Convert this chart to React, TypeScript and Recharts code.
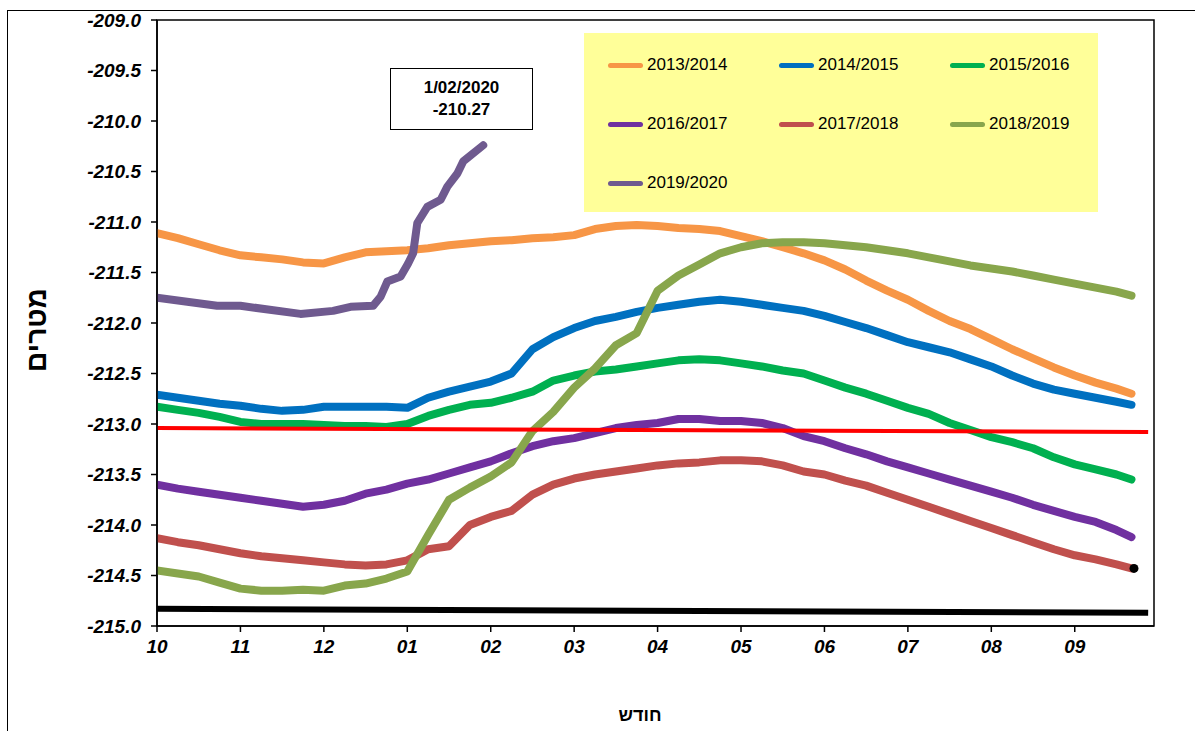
import {
  LineChart,
  Line,
  XAxis,
  YAxis,
  ReferenceLine,
  ReferenceArea,
  ReferenceDot,
} from "recharts";

// month ticks (Oct .. Sep)
const MONTH_LABELS = ["10", "11", "12", "01", "02", "03", "04", "05", "06", "07", "08", "09"];
const MONTH_TICKS = [0, 1, 2, 3, 4, 5, 6, 7, 8, 9, 10, 11];
const Y_TICKS = [-215, -214.5, -214, -213.5, -213, -212.5, -212, -211.5, -211, -210.5, -210, -209.5, -209];

// sample positions in months since 1 Oct
const X_POS = [
  0, 0.25, 0.5, 0.75, 1, 1.25, 1.5, 1.75, 2, 2.25, 2.5, 2.75, 3, 3.25, 3.5, 3.75,
  4, 4.25, 4.5, 4.75, 5, 5.25, 5.5, 5.75, 6, 6.25, 6.5, 6.75, 7, 7.25, 7.5, 7.75,
  8, 8.25, 8.5, 8.75, 9, 9.25, 9.5, 9.75, 10, 10.25, 10.5, 10.75, 11, 11.25, 11.5, 11.68,
];

const S1314 = [
  -211.11, -211.16, -211.22, -211.28, -211.33, -211.35, -211.37, -211.4, -211.41, -211.35, -211.3, -211.29,
  -211.28, -211.26, -211.23, -211.21, -211.19, -211.18, -211.16, -211.15, -211.13, -211.07, -211.04, -211.03,
  -211.04, -211.06, -211.07, -211.09, -211.14, -211.19, -211.25, -211.31, -211.38, -211.47, -211.58, -211.68,
  -211.77, -211.88, -211.98, -212.06, -212.16, -212.26, -212.35, -212.44, -212.52, -212.59, -212.65, -212.7,
];
const S1415 = [
  -212.71, -212.74, -212.77, -212.8, -212.82, -212.85, -212.87, -212.86, -212.83, -212.83, -212.83, -212.83,
  -212.84, -212.74, -212.68, -212.63, -212.58, -212.5, -212.26, -212.14, -212.05, -211.98, -211.94, -211.89,
  -211.85, -211.82, -211.79, -211.77, -211.79, -211.82, -211.85, -211.88, -211.93, -211.99, -212.05, -212.12,
  -212.19, -212.24, -212.29, -212.36, -212.43, -212.52, -212.6, -212.66, -212.7, -212.74, -212.78, -212.81,
];
const S1516 = [
  -212.83, -212.86, -212.89, -212.93, -212.98, -213.0, -213.0, -213.0, -213.01, -213.02, -213.02, -213.03,
  -213.0, -212.92, -212.86, -212.81, -212.79, -212.74, -212.68, -212.57, -212.52, -212.48, -212.46, -212.43,
  -212.4, -212.37, -212.36, -212.37, -212.4, -212.43, -212.47, -212.5, -212.57, -212.64, -212.7, -212.77,
  -212.84, -212.9, -212.99, -213.06, -213.13, -213.18, -213.24, -213.33, -213.4, -213.45, -213.5, -213.55,
];
const S1617 = [
  -213.6, -213.64, -213.67, -213.7, -213.73, -213.76, -213.79, -213.82, -213.8, -213.76, -213.69, -213.65,
  -213.59, -213.55, -213.49, -213.43, -213.37, -213.29, -213.22, -213.17, -213.14, -213.09, -213.04, -213.01,
  -212.99, -212.95, -212.95, -212.97, -212.97, -212.99, -213.04, -213.12, -213.17, -213.24, -213.3, -213.37,
  -213.43, -213.49, -213.55, -213.61, -213.67, -213.73, -213.8, -213.86, -213.92, -213.97, -214.05, -214.12,
];
const S1718 = [
  -214.13, -214.17, -214.2, -214.24, -214.28, -214.31, -214.33, -214.35, -214.37, -214.39, -214.4, -214.39,
  -214.35, -214.24, -214.21, -214.0, -213.92, -213.86, -213.7, -213.6, -213.54, -213.5, -213.47, -213.44,
  -213.41, -213.39, -213.38, -213.36, -213.36, -213.37, -213.41, -213.47, -213.5, -213.56, -213.61, -213.68,
  -213.75, -213.82, -213.89, -213.96, -214.03, -214.1, -214.17, -214.24, -214.3, -214.34, -214.39, -214.43,
];
const S1819 = [
  -214.45, -214.48, -214.51, -214.57, -214.63, -214.65, -214.65, -214.64, -214.65, -214.6, -214.58, -214.53,
  -214.46, -214.1, -213.75, -213.63, -213.52, -213.38, -213.07, -212.88, -212.64, -212.45, -212.22, -212.1,
  -211.68, -211.53, -211.42, -211.31, -211.25, -211.21, -211.2, -211.2, -211.21, -211.23, -211.25, -211.28,
  -211.31, -211.35, -211.39, -211.43, -211.46, -211.49, -211.53, -211.57, -211.61, -211.65, -211.69, -211.73,
];

// current season, only up to 1/02/2020
const X_1920 = [0, 0.72, 1.0, 1.72, 2.11, 2.32, 2.59, 2.68, 2.76, 2.92, 3.01, 3.07, 3.12, 3.24, 3.4, 3.48, 3.6, 3.67, 3.91];
const S1920 = [
  -211.75, -211.83, -211.83, -211.91, -211.88, -211.84, -211.83, -211.74, -211.59, -211.54, -211.41, -211.31,
  -211.01, -210.85, -210.78, -210.65, -210.52, -210.4, -210.24,
];

const RED_LINE = [-213.04, -213.08];
const BLACK_LINE = [-214.83, -214.87];

const SERIES = [
  { key: "s1314", name: "2013/2014", color: "#F79646", values: S1314 },
  { key: "s1415", name: "2014/2015", color: "#0070C0", values: S1415 },
  { key: "s1516", name: "2015/2016", color: "#00B050", values: S1516 },
  { key: "s1617", name: "2016/2017", color: "#7030A0", values: S1617 },
  { key: "s1718", name: "2017/2018", color: "#C0504D", values: S1718 },
  { key: "s1819", name: "2018/2019", color: "#88A64C", values: S1819 },
];
const COLOR_1920 = "#6F5A8F";

const data = X_POS.map((m, i) => {
  const row: Record<string, number> = { m };
  SERIES.forEach((s) => (row[s.key] = s.values[i]));
  return row;
});
const data1920 = X_1920.map((m, i) => ({ m, v: S1920[i] }));

const FONT = '"Liberation Sans", Arial, "DejaVu Sans", sans-serif';
const tickStyle = { fontSize: 19, fontWeight: 700, fontStyle: "italic", fill: "#000", fontFamily: FONT };

const LEGEND_ITEMS = [...SERIES.map((s) => ({ name: s.name, color: s.color })), { name: "2019/2020", color: COLOR_1920 }];

export default function App() {
  return (
    <div style={{ position: "absolute", left: 0, top: 0, width: 1195, height: 731, background: "#fff", fontFamily: FONT }}>
      <div
        style={{
          position: "absolute",
          left: 7,
          top: 10,
          width: 1300,
          height: 800,
          borderLeft: "1.5px solid #000",
          borderTop: "1.5px solid #000",
        }}
      />
      <LineChart
        width={1195}
        height={731}
        data={data}
        margin={{ top: 20, right: 41, left: 17, bottom: 65 }}
        style={{ position: "absolute", left: 0, top: 0 }}
      >
        <XAxis
          dataKey="m"
          type="number"
          domain={[0, 11.95]}
          ticks={MONTH_TICKS}
          tickFormatter={(v) => MONTH_LABELS[v] ?? ""}
          tick={tickStyle}
          tickSize={6}
          tickMargin={8}
          height={40}
          axisLine={{ stroke: "#000", strokeWidth: 1.5 }}
          tickLine={{ stroke: "#000", strokeWidth: 1.5 }}
          allowDataOverflow
        />
        <YAxis
          type="number"
          domain={[-215, -209]}
          ticks={Y_TICKS}
          tickFormatter={(v) => Number(v).toFixed(1)}
          tick={tickStyle}
          tickSize={6}
          tickMargin={10}
          width={140}
          axisLine={{ stroke: "#000", strokeWidth: 1.5 }}
          tickLine={{ stroke: "#000", strokeWidth: 1.5 }}
          allowDataOverflow
        />
        <ReferenceArea x1={0} x2={11.95} y1={-215} y2={-209} fill="none" stroke="#000" strokeWidth={1.5} />
        <ReferenceDot x={11.71} y={S1718[S1718.length - 1]} r={4.5} fill="#000" stroke="none" />
        {SERIES.map((s) => (
          <Line
            key={s.key}
            dataKey={s.key}
            name={s.name}
            stroke={s.color}
            strokeWidth={8}
            strokeLinecap="round"
            strokeLinejoin="round"
            dot={false}
            activeDot={false}
            isAnimationActive={false}
          />
        ))}
        <Line
          data={data1920}
          dataKey="v"
          name="2019/2020"
          stroke={COLOR_1920}
          strokeWidth={8}
          strokeLinecap="round"
          strokeLinejoin="round"
          dot={false}
          activeDot={false}
          isAnimationActive={false}
        />
        <ReferenceLine
          segment={[
            { x: 0, y: RED_LINE[0] },
            { x: 11.88, y: RED_LINE[1] },
          ]}
          stroke="#FF0000"
          strokeWidth={4}
        />
        <ReferenceLine
          segment={[
            { x: 0, y: BLACK_LINE[0] },
            { x: 11.88, y: BLACK_LINE[1] },
          ]}
          stroke="#000"
          strokeWidth={6}
        />
      </LineChart>

      {/* legend box */}
      <div style={{ position: "absolute", left: 584, top: 33, width: 514, height: 179, background: "#FFFF99" }}>
        {LEGEND_ITEMS.map((it, i) => (
          <div
            key={it.name}
            style={{
              position: "absolute",
              left: 24 + (i % 3) * 171,
              top: 32 + Math.floor(i / 3) * 59 - 12,
              height: 24,
              display: "flex",
              alignItems: "center",
              fontSize: 17,
              color: "#000",
            }}
          >
            <span style={{ display: "inline-block", width: 35, height: 5, borderRadius: 3, background: it.color, marginRight: 4 }} />
            {it.name}
          </div>
        ))}
      </div>

      {/* date annotation */}
      <div
        style={{
          position: "absolute",
          left: 390,
          top: 68,
          width: 141,
          height: 60,
          border: "1px solid #000",
          background: "#fff",
          display: "flex",
          flexDirection: "column",
          alignItems: "center",
          justifyContent: "center",
          fontWeight: 700,
          fontSize: 17,
          lineHeight: "22px",
        }}
      >
        <div>1/02/2020</div>
        <div>-210.27</div>
      </div>

      {/* axis titles */}
      <div
        style={{
          position: "absolute",
          left: 37,
          top: 330,
          transform: "translate(-50%, -50%) rotate(-90deg)",
          fontWeight: 700,
          fontSize: 28,
          whiteSpace: "nowrap",
          direction: "rtl",
        }}
      >
        מטרים
      </div>
      <div
        style={{
          position: "absolute",
          left: 640,
          top: 715,
          transform: "translate(-50%, -50%)",
          fontWeight: 700,
          fontSize: 18,
          whiteSpace: "nowrap",
          direction: "rtl",
        }}
      >
        חודש
      </div>
    </div>
  );
}
